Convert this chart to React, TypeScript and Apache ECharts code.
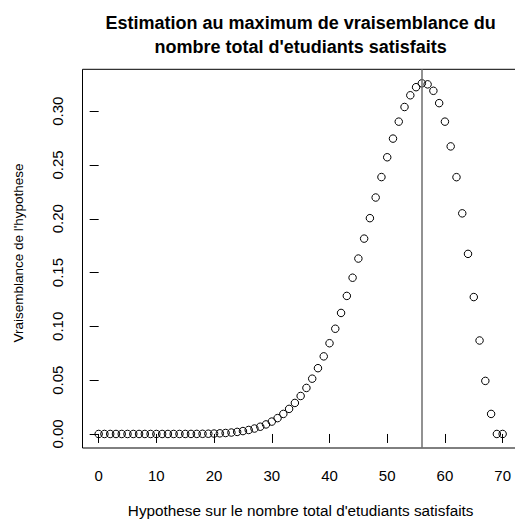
import React, { useEffect, useRef } from "react";
import * as echarts from "echarts";

const hypotheses = [
  0, 1, 2, 3, 4, 5, 6, 7, 8, 9, 10, 11, 12, 13, 14, 15, 16, 17, 18, 19,
  20, 21, 22, 23, 24, 25, 26, 27, 28, 29, 30, 31, 32, 33, 34, 35, 36, 37, 38, 39,
  40, 41, 42, 43, 44, 45, 46, 47, 48, 49, 50, 51, 52, 53, 54, 55, 56, 57, 58, 59,
  60, 61, 62, 63, 64, 65, 66, 67, 68, 69, 70,
];

const likelihood = [
  0, 0, 0, 0, 0, 0, 0, 0, 0, 0,
  0, 0.000001, 0.000002, 0.000005, 0.000012, 0.000024, 0.000046, 0.000084, 0.000146, 0.000243,
  0.000389, 0.000603, 0.000909, 0.001336, 0.001919, 0.002699, 0.003726, 0.005054, 0.006746, 0.008872,
  0.011508, 0.014735, 0.018639, 0.023309, 0.028834, 0.035301, 0.042794, 0.051387, 0.061145, 0.072116,
  0.084329, 0.097788, 0.112466, 0.128303, 0.145199, 0.163009, 0.18154, 0.200548, 0.219731, 0.238732,
  0.257137, 0.274479, 0.290238, 0.303854, 0.314734, 0.322267, 0.325848, 0.324898, 0.3189, 0.307436,
  0.290237, 0.267237, 0.238643, 0.205016, 0.16736, 0.127233, 0.086869, 0.049324, 0.018634, 0, 0,
];

const mleHypothesis = 56;
const xTicks = [0, 10, 20, 30, 40, 50, 60, 70];
const yTicks = [0, 0.05, 0.1, 0.15, 0.2, 0.25, 0.3];
const titleLines = [
  "Estimation au maximum de vraisemblance du",
  "nombre total d'etudiants satisfaits",
];
const xName = "Hypothese sur le nombre total d'etudiants satisfaits";
const yName = "Vraisemblance de l'hypothese";

const FONT = '"Liberation Sans", Arial, Helvetica, sans-serif';

export default function App() {
  const ref = useRef<HTMLDivElement>(null);

  useEffect(() => {
    if (!ref.current) return;
    const chart = echarts.init(ref.current, null, { renderer: "svg" });
    const points = hypotheses.map((h, i) => [h, likelihood[i]]);
    const gridLeft = 82.5;
    const gridTop = 69.3;
    const gridWidth = 436.3;
    const gridHeight = 381.7;
    const cx = gridLeft + gridWidth / 2;

    chart.setOption({
      animation: false,
      backgroundColor: "#ffffff",
      textStyle: { fontFamily: FONT },
      graphic: [
        {
          type: "text",
          x: cx,
          y: 23,
          style: {
            text: titleLines[0],
            font: `bold 18px ${FONT}`,
            fill: "#000",
            textAlign: "center",
            textVerticalAlign: "middle",
          },
        },
        {
          type: "text",
          x: cx,
          y: 46.5,
          style: {
            text: titleLines[1],
            font: `bold 18px ${FONT}`,
            fill: "#000",
            textAlign: "center",
            textVerticalAlign: "middle",
          },
        },
        {
          type: "text",
          x: 18,
          y: 253,
          rotation: Math.PI / 2,
          style: {
            text: yName,
            font: `13.5px ${FONT}`,
            fill: "#000",
            textAlign: "center",
            textVerticalAlign: "middle",
          },
        },
      ],
      grid: {
        left: gridLeft,
        top: gridTop,
        width: gridWidth,
        height: gridHeight,
        show: true,
        borderColor: "#000",
        borderWidth: 1,
        backgroundColor: "transparent",
      },
      xAxis: {
        type: "value",
        min: -2.8,
        max: 72.8,
        splitLine: { show: false },
        axisLine: { show: false },
        axisTick: {
          show: true,
          length: 9,
          inside: false,
          customValues: xTicks,
          lineStyle: { color: "#000", width: 1 },
        },
        axisLabel: {
          show: true,
          customValues: xTicks,
          margin: 20,
          fontSize: 15,
          color: "#000",
          fontFamily: FONT,
        },
        name: xName,
        nameLocation: "middle",
        nameGap: 55,
        nameTextStyle: { fontSize: 15.3, color: "#000", fontFamily: FONT },
      },
      yAxis: {
        type: "value",
        min: -0.013034,
        max: 0.338882,
        splitLine: { show: false },
        axisLine: { show: false },
        axisTick: {
          show: true,
          length: 9,
          inside: false,
          customValues: yTicks,
          lineStyle: { color: "#000", width: 1 },
        },
        axisLabel: {
          show: true,
          customValues: yTicks,
          rotate: 90,
          margin: 18,
          fontSize: 15,
          color: "#000",
          fontFamily: FONT,
          formatter: (v: number) => v.toFixed(2),
        },
      },
      series: [
        {
          type: "scatter",
          data: points,
          symbol: "circle",
          symbolSize: 7.5,
          itemStyle: {
            color: "rgba(0,0,0,0)",
            borderColor: "#000",
            borderWidth: 1,
            opacity: 1,
          },
          emphasis: { disabled: true },
          markLine: {
            silent: true,
            symbol: "none",
            label: { show: false },
            lineStyle: { color: "#6e6e6e", width: 1.5, type: "solid" },
            data: [{ xAxis: mleHypothesis }],
          },
        },
      ],
    });

    return () => {
      chart.dispose();
    };
  }, []);

  return (
    <div
      style={{
        position: "absolute",
        left: 0,
        top: 0,
        width: 515,
        height: 523,
        overflow: "hidden",
        background: "#fff",
      }}
    >
      <div ref={ref} style={{ width: 530, height: 523 }} />
    </div>
  );
}
